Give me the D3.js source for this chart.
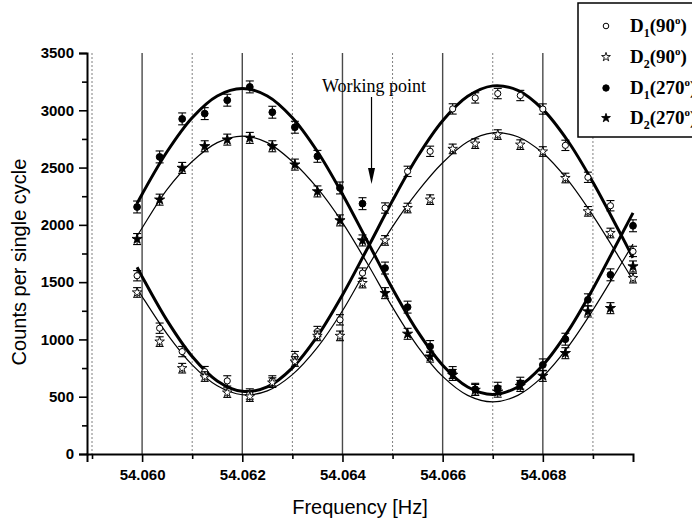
<!DOCTYPE html>
<html>
<head>
<meta charset="utf-8">
<script src="https://cdn.jsdelivr.net/npm/d3@7/dist/d3.min.js"></script>
<style>
  body { margin: 0; background: #fff; }
</style>
</head>
<body>
<svg id="chart" width="692" height="523"></svg>
<script>
// measured points (Hz)
const freqs = [54.0599, 54.06035, 54.0608, 54.06125, 54.0617, 54.06215, 54.0626, 54.06305,
  54.0635, 54.06395, 54.0644, 54.06485, 54.0653, 54.06575, 54.0662, 54.06665, 54.0671,
  54.06755, 54.068, 54.06845, 54.0689, 54.06935, 54.0698];

const d1_90 = [1556, 1098, 894, 719, 638, 524, 638, 850, 1069, 1171, 1579, 2147, 2467, 2642,
  3012, 3108, 3146, 3129, 3011, 2694, 2415, 2167, 1768];
const d2_90 = [1410, 981, 749, 676, 536, 501, 623, 807, 1031, 1031, 1492, 1864, 2147, 2220,
  2663, 2709, 2788, 2700, 2640, 2409, 2118, 1929, 1535];
const d1_270 = [2156, 2593, 2925, 2971, 3088, 3204, 2983, 2852, 2598, 2322, 2185, 1623, 1282, 938,
  711, 565, 574, 618, 778, 1002, 1346, 1564, 1992];
const d2_270 = [1876, 2220, 2497, 2686, 2744, 2759, 2686, 2526, 2292, 2039, 1864, 1404, 1049, 850,
  690, 559, 544, 594, 682, 880, 1244, 1273, 1637];

// error bar half-heights (counts) per series
const errors = [45, 42, 52, 48];

// fitted curves
const fitFreqs = [54.0599, 54.0600, 54.0605, 54.0610, 54.0615, 54.0620, 54.0625, 54.0630, 54.0635,
  54.0640, 54.0645, 54.0650, 54.0655, 54.0660, 54.0665, 54.0670, 54.0675, 54.0680, 54.0685,
  54.0690, 54.0695, 54.0698];
const fit_d1_90 = [1630, 1548, 1164, 851, 638, 547, 586, 752, 1028, 1388, 1796, 2212, 2596, 2909,
  3122, 3213, 3174, 3008, 2732, 2372, 1964, 1713];
const fit_d2_90 = [1445, 1375, 1047, 778, 595, 517, 551, 693, 930, 1250, 1630, 1985, 2290, 2542,
  2725, 2803, 2769, 2627, 2390, 2081, 1732, 1517];
const fit_d1_270 = [2187, 2268, 2640, 2935, 3125, 3190, 3125, 2935, 2640, 2268, 1855, 1442, 1070,
  775, 585, 520, 585, 775, 1070, 1442, 1855, 2105];
const fit_d2_270 = [1903, 1973, 2310, 2553, 2718, 2775, 2718, 2553, 2320, 2020, 1660, 1280, 940,
  677, 512, 455, 512, 677, 933, 1257, 1615, 1832];

const seriesNames = ['D1(90)', 'D2(90)', 'D1(270)', 'D2(270)'];
const majorTicks = [54.060, 54.062, 54.064, 54.066, 54.068];
const minorTicks = [54.059, 54.061, 54.063, 54.065, 54.067, 54.069];
const yTicks = [0, 500, 1000, 1500, 2000, 2500, 3000, 3500];
const yMinorTicks = [250, 750, 1250, 1750, 2250, 2750, 3250];
const workingPoint = 54.06458;

const svg = d3.select('#chart');

const x = d3.scaleLinear().domain([54.0589, 54.0698]).range([87, 633]);
const y = d3.scaleLinear().domain([0, 3500]).range([454, 53]);

// vertical reference lines
svg.append('g')
  .selectAll('line')
  .data(majorTicks)
  .enter()
  .append('line')
  .attr('x1', d => x(d))
  .attr('x2', d => x(d))
  .attr('y1', y(3500))
  .attr('y2', y(0))
  .attr('stroke', '#4a4a4a')
  .attr('stroke-width', 1.4);

svg.append('g')
  .selectAll('line')
  .data(minorTicks)
  .enter()
  .append('line')
  .attr('x1', d => x(d))
  .attr('x2', d => x(d))
  .attr('y1', y(3500))
  .attr('y2', y(0))
  .attr('stroke', '#808080')
  .attr('stroke-width', 1)
  .attr('stroke-dasharray', '2,2');

// fitted curves
const line = d3.line()
  .x((d, i) => x(fitFreqs[i]))
  .y(d => y(d))
  .curve(d3.curveCatmullRom);

const fits = [
  { values: fit_d1_90, width: 3 },
  { values: fit_d2_90, width: 1.2 },
  { values: fit_d1_270, width: 3 },
  { values: fit_d2_270, width: 1.2 }
];

svg.append('g')
  .selectAll('path')
  .data(fits)
  .enter()
  .append('path')
  .attr('d', d => line(d.values))
  .attr('fill', 'none')
  .attr('stroke', '#000')
  .attr('stroke-width', d => d.width);

// points with error bars
const star = d3.symbol().type(d3.symbolStar);
const series = [
  { values: d1_90, err: errors[0], shape: 'circle', fill: '#fff' },
  { values: d2_90, err: errors[1], shape: 'star', fill: '#fff' },
  { values: d1_270, err: errors[2], shape: 'circle', fill: '#000' },
  { values: d2_270, err: errors[3], shape: 'star', fill: '#000' }
];

series.forEach(s => {
  const g = svg.append('g');
  const pts = s.values.map((v, i) => ({ f: freqs[i], v: v }));

  const eb = g.selectAll('g.eb').data(pts).enter().append('g').attr('class', 'eb')
    .attr('stroke', '#000').attr('stroke-width', 1.1);
  eb.append('line')
    .attr('x1', d => x(d.f)).attr('x2', d => x(d.f))
    .attr('y1', d => y(d.v + s.err)).attr('y2', d => y(d.v - s.err));
  eb.append('line')
    .attr('x1', d => x(d.f) - 4).attr('x2', d => x(d.f) + 4)
    .attr('y1', d => y(d.v + s.err)).attr('y2', d => y(d.v + s.err));
  eb.append('line')
    .attr('x1', d => x(d.f) - 4).attr('x2', d => x(d.f) + 4)
    .attr('y1', d => y(d.v - s.err)).attr('y2', d => y(d.v - s.err));

  if (s.shape === 'circle') {
    g.selectAll('circle').data(pts).enter().append('circle')
      .attr('cx', d => x(d.f))
      .attr('cy', d => y(d.v))
      .attr('r', s.fill === '#000' ? 3.4 : 3.1)
      .attr('fill', s.fill)
      .attr('stroke', '#000')
      .attr('stroke-width', 1);
  } else {
    g.selectAll('path').data(pts).enter().append('path')
      .attr('d', star.size(s.fill === '#000' ? 32 : 28)())
      .attr('transform', d => 'translate(' + x(d.f) + ',' + y(d.v) + ')')
      .attr('fill', s.fill)
      .attr('stroke', '#000')
      .attr('stroke-width', 0.9);
  }
});

// axes
const xAxis = d3.axisBottom(x).tickValues(majorTicks).tickFormat(d3.format('.3f'))
  .tickSize(8).tickPadding(7);
const xMinor = d3.axisBottom(x).tickValues(minorTicks).tickFormat('').tickSize(5);
const yAxis = d3.axisLeft(y).tickValues(yTicks).tickFormat(d3.format('d'))
  .tickSize(8).tickPadding(5);
const yMinor = d3.axisLeft(y).tickValues(yMinorTicks).tickFormat('').tickSize(5);

const gx = svg.append('g').attr('transform', 'translate(0,' + y(0) + ')').call(xAxis);
svg.append('g').attr('transform', 'translate(0,' + y(0) + ')').call(xMinor)
  .select('.domain').remove();
const gy = svg.append('g').attr('transform', 'translate(' + x.range()[0] + ',0)').call(yAxis);
svg.append('g').attr('transform', 'translate(' + x.range()[0] + ',0)').call(yMinor)
  .select('.domain').remove();

svg.selectAll('.domain').attr('stroke-width', 2).attr('stroke', '#000');
svg.selectAll('.tick line').attr('stroke-width', 1.6).attr('stroke', '#000');
[gx, gy].forEach(g => g.selectAll('text')
  .attr('font-family', 'Liberation Sans, Arial, sans-serif')
  .attr('font-weight', 'bold')
  .attr('font-size', 15)
  .attr('fill', '#000'));

// axis titles
svg.append('text')
  .attr('x', 360)
  .attr('y', 514)
  .attr('text-anchor', 'middle')
  .attr('font-family', 'Liberation Sans, Arial, sans-serif')
  .attr('font-size', 20)
  .text('Frequency [Hz]');

svg.append('text')
  .attr('transform', 'translate(26,262) rotate(-90)')
  .attr('text-anchor', 'middle')
  .attr('font-family', 'Liberation Sans, Arial, sans-serif')
  .attr('font-size', 20)
  .text('Counts per single cycle');

// working point annotation
svg.append('text')
  .attr('x', 322)
  .attr('y', 92)
  .attr('font-family', 'Liberation Serif, Times New Roman, serif')
  .attr('font-size', 18)
  .text('Working point');

svg.append('line')
  .attr('x1', x(workingPoint)).attr('x2', x(workingPoint))
  .attr('y1', 97).attr('y2', 170)
  .attr('stroke', '#000').attr('stroke-width', 1.2);
svg.append('path')
  .attr('d', 'M' + (x(workingPoint) - 3.5) + ',168L' + (x(workingPoint) + 3.5) + ',168L' +
    x(workingPoint) + ',184Z')
  .attr('fill', '#000');

// legend
const legend = svg.append('g');
legend.append('rect')
  .attr('x', 578).attr('y', 3)
  .attr('width', 140).attr('height', 134)
  .attr('fill', '#fff')
  .attr('stroke', '#000')
  .attr('stroke-width', 1.5);

const rowY = [26, 57, 88, 118];
series.forEach((s, i) => {
  const cy = rowY[i];
  if (s.shape === 'circle') {
    legend.append('circle')
      .attr('cx', 606).attr('cy', cy)
      .attr('r', s.fill === '#000' ? 3.2 : 2.8)
      .attr('fill', s.fill).attr('stroke', '#000').attr('stroke-width', 1);
  } else {
    legend.append('path')
      .attr('d', star.size(24)())
      .attr('transform', 'translate(606,' + cy + ')')
      .attr('fill', s.fill).attr('stroke', '#000').attr('stroke-width', 0.9);
  }
  const m = seriesNames[i].match(/D(\d)\((\d+)\)/);
  const t = legend.append('text')
    .attr('x', 630).attr('y', cy + 6)
    .attr('font-family', 'Liberation Serif, Times New Roman, serif')
    .attr('font-weight', 'bold')
    .attr('font-size', 19);
  t.append('tspan').text('D');
  t.append('tspan').attr('font-size', 12).attr('dy', 5).text(m[1]);
  t.append('tspan').attr('dy', -5).text('(' + m[2]);
  t.append('tspan').attr('font-size', 11).attr('dy', -8).text('o');
  t.append('tspan').attr('dy', 8).text(')');
});
</script>
</body>
</html>
